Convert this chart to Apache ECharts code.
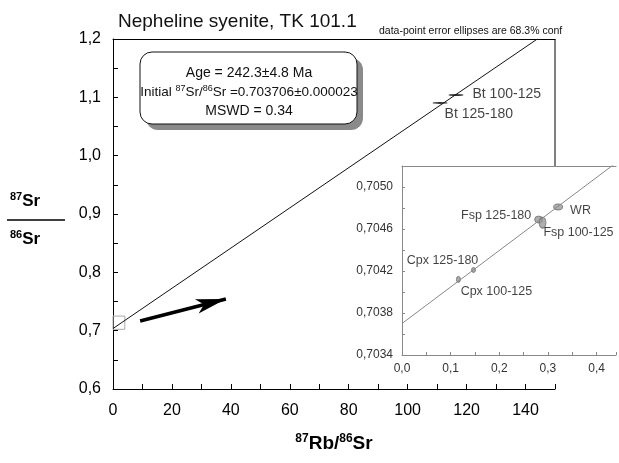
<!DOCTYPE html>
<html>
<head>
<meta charset="utf-8">
<script src="https://cdn.jsdelivr.net/npm/echarts@6/dist/echarts.min.js"></script>
<style>
html, body { margin: 0; padding: 0; background: #fff; }
#main { width: 619px; height: 463px; }
</style>
</head>
<body>
<div id="main"></div>
<script>
// values
var btNames = ['Bt 100-125', 'Bt 125-180'];
var btPoints = [[116.4, 1.104], [111.0, 1.0905]];
var insetNames = ['Cpx 100-125', 'Cpx 125-180', 'Fsp 125-180', 'Fsp 100-125', 'WR'];
var insetPoints = [[0.116, 0.70412], [0.147, 0.70421], [0.281, 0.70469], [0.289, 0.70466], [0.321, 0.70481]];
var mainIsochron = [[0, 0.7037], [144, 1.2]];
var insetIsochron = [[0, 0.7037], [0.44, 0.70523]];
var zoomBox = [[0, 0.7023], [4, 0.725]];
var arrowLine = [[9.2, 0.7166], [38.3, 0.7543]];
var boxLines = ['Age = 242.3±4.8 Ma', 'Initial {sup|87}Sr/{sup|86}Sr =0.703706±0.000023', 'MSWD = 0.34'];

var font = 'Liberation Sans, Arial, sans-serif';

var myChart = echarts.init(document.getElementById('main'));

function comma(v, d) {
  return v.toFixed(d).replace('.', ',');
}

// ellipse sizes and label placement for the inset points
var insetStyle = [
  { size: [4, 6], pos: 'bottom', off: [38, -3] },
  { size: [4, 5], pos: 'top', off: [-31, 5] },
  { size: [8, 7], pos: 'left', off: [2, -4] },
  { size: [7, 11], pos: 'right', off: [-8, 10] },
  { size: [9, 6], pos: 'right', off: [2, 4] }
];
var btStyle = [
  { pos: 'right', off: [4, -1] },
  { pos: 'right', off: [-8, 11] }
];

var option = {
  animation: false,
  textStyle: { fontFamily: font },
  title: {
    text: 'Nepheline syenite, TK 101.1',
    left: 113,
    top: 7,
    textStyle: { fontSize: 19, fontWeight: 'normal', color: '#111', fontFamily: font }
  },
  grid: [
    { left: 113, top: 39, width: 442, height: 350 },
    { left: 402, top: 166, width: 217, height: 189 }
  ],
  xAxis: [
    {
      gridIndex: 0, type: 'value', min: 0, max: 150, interval: 10,
      splitLine: { show: false },
      axisLine: { lineStyle: { color: '#000', width: 1 } },
      axisTick: { inside: true, length: 5, lineStyle: { color: '#000' } },
      axisLabel: {
        fontSize: 16, color: '#000', margin: 14,
        formatter: function (v) { return v % 20 === 0 ? String(v) : ''; }
      },
      name: '{sup|87}{b|Rb/}{sup|86}{b|Sr}',
      nameLocation: 'middle',
      nameGap: 44,
      nameTextStyle: {
        rich: {
          b: { fontSize: 19, fontWeight: 'bold', color: '#000', fontFamily: font },
          sup: { fontSize: 12, fontWeight: 'bold', color: '#000', verticalAlign: 'top', padding: [0, 0, 9, 0], fontFamily: font }
        }
      }
    },
    {
      gridIndex: 0, type: 'value', min: 0, max: 150, position: 'top',
      splitLine: { show: false }, axisTick: { show: false }, axisLabel: { show: false },
      axisLine: { show: true, lineStyle: { color: '#000', width: 1 } }
    },
    {
      gridIndex: 1, type: 'value', min: 0, max: 0.44, interval: 0.05,
      splitLine: { show: false },
      axisLine: { lineStyle: { color: '#888', width: 1 } },
      axisTick: { inside: true, length: 3, lineStyle: { color: '#888' } },
      axisLabel: {
        fontSize: 12, color: '#333', margin: 8,
        formatter: function (v) { return Math.round(v * 100) % 10 === 0 ? comma(v, 1) : ''; }
      }
    },
    {
      gridIndex: 1, type: 'value', min: 0, max: 0.44, position: 'top',
      splitLine: { show: false }, axisTick: { show: false }, axisLabel: { show: false },
      axisLine: { show: true, lineStyle: { color: '#888', width: 1 } }
    }
  ],
  yAxis: [
    {
      gridIndex: 0, type: 'value', min: 0.6, max: 1.2, interval: 0.05,
      splitLine: { show: false },
      axisLine: { show: true, lineStyle: { color: '#000', width: 1 } },
      axisTick: { show: true, inside: true, length: 5, lineStyle: { color: '#000' } },
      axisLabel: {
        fontSize: 16, color: '#000', margin: 12,
        formatter: function (v) { return Math.round(v * 100) % 10 === 0 ? comma(v, 1) : ''; }
      }
    },
    {
      gridIndex: 1, type: 'value', min: 0.7034, max: 0.7052, interval: 0.0002,
      splitLine: { show: false },
      axisLine: { show: true, lineStyle: { color: '#888', width: 1 } },
      axisTick: { show: true, inside: true, length: 3, lineStyle: { color: '#888' } },
      axisLabel: {
        fontSize: 12, color: '#333', margin: 9,
        formatter: function (v) {
          var n = Math.round((v - 0.7034) / 0.0002);
          return n % 2 === 0 ? comma(v, 4) : '';
        }
      }
    }
  ],
  series: [
    {
      name: 'isochron', type: 'line', xAxisIndex: 0, yAxisIndex: 0,
      data: mainIsochron, showSymbol: false, symbol: 'none',
      lineStyle: { color: '#111', width: 1 },
      markArea: {
        silent: true,
        itemStyle: { color: 'rgba(0,0,0,0)', borderColor: '#aaa', borderWidth: 1 },
        data: [[{ coord: zoomBox[0] }, { coord: zoomBox[1] }]]
      },
      markLine: {
        silent: true,
        symbol: ['none', 'arrow'],
        symbolSize: [11, 30],
        label: { show: false },
        lineStyle: { color: '#000', width: 3.5, type: 'solid' },
        data: [[{ coord: arrowLine[0] }, { coord: arrowLine[1] }]]
      }
    },
    {
      name: 'Bt', type: 'scatter', xAxisIndex: 0, yAxisIndex: 0,
      data: btPoints.map(function (p, i) {
        return {
          value: p, name: btNames[i],
          label: { show: true, position: btStyle[i].pos, offset: btStyle[i].off }
        };
      }),
      symbol: 'circle', symbolSize: [15, 2],
      itemStyle: { color: '#000' },
      label: { formatter: '{b}', fontSize: 14, color: '#111', fontFamily: font }
    },
    {
      name: 'inset isochron', type: 'line', xAxisIndex: 2, yAxisIndex: 1,
      data: insetIsochron, showSymbol: false, symbol: 'none',
      lineStyle: { color: '#888', width: 1 }
    },
    {
      name: 'minerals', type: 'scatter', xAxisIndex: 2, yAxisIndex: 1,
      data: insetPoints.map(function (p, i) {
        return {
          value: p, name: insetNames[i], symbolSize: insetStyle[i].size,
          label: { show: true, position: insetStyle[i].pos, offset: insetStyle[i].off }
        };
      }),
      symbol: 'circle',
      itemStyle: { color: '#9a9a9a', borderColor: '#555', borderWidth: 0.8 },
      label: { formatter: '{b}', fontSize: 12.5, color: '#111', fontFamily: font }
    }
  ]
};

myChart.setOption(option);

// frame pieces, info box and y title placed from the axes
var topRight = myChart.convertToPixel({ gridIndex: 0 }, [150, 1.2]);
var insetTop = myChart.convertToPixel({ gridIndex: 1 }, [0, 0.7052]);
var boxRich = {
  sup: { fontSize: 9, verticalAlign: 'top', padding: [0, 0, 7, 0], fontFamily: font, color: '#111' }
};
var fracRich = {
  b: { fontSize: 17, fontWeight: 'bold', fontFamily: font, fill: '#000' },
  sup: { fontSize: 11, fontWeight: 'bold', fontFamily: font, fill: '#000', verticalAlign: 'top', padding: [0, 0, 8, 0] }
};

myChart.setOption({
  graphic: [
    {
      type: 'line', silent: true,
      shape: { x1: topRight[0], y1: topRight[1], x2: topRight[0], y2: insetTop[1] },
      style: { stroke: '#000', lineWidth: 1 }
    },
    {
      type: 'text', left: 379, top: 26, silent: true,
      style: { text: 'data-point error ellipses are 68.3% conf', fontSize: 10.5, fill: '#111', font: '10.5px ' + font }
    },
    {
      type: 'rect', silent: true,
      shape: { x: 146, y: 58, width: 217, height: 72, r: 12 },
      style: { fill: '#8a8a8a' }
    },
    {
      type: 'rect', silent: true,
      shape: { x: 140, y: 52, width: 217, height: 72, r: 12 },
      style: { fill: '#fff', stroke: '#111', lineWidth: 1 }
    },
    {
      type: 'text', silent: true, x: 249, y: 73,
      style: { text: boxLines[0], fontSize: 14, fontFamily: font, fill: '#111', align: 'center', verticalAlign: 'middle' }
    },
    {
      type: 'text', silent: true, x: 249, y: 92,
      style: { text: boxLines[1], fontSize: 13.5, fontFamily: font, fill: '#111', align: 'center', verticalAlign: 'middle', rich: boxRich }
    },
    {
      type: 'text', silent: true, x: 249, y: 111,
      style: { text: boxLines[2], fontSize: 14, fontFamily: font, fill: '#111', align: 'center', verticalAlign: 'middle' }
    },
    {
      type: 'text', silent: true, x: 10, y: 201,
      style: { text: '{sup|87}{b|Sr}', align: 'left', verticalAlign: 'middle', rich: fracRich }
    },
    {
      type: 'line', silent: true,
      shape: { x1: 7, y1: 220, x2: 65, y2: 220 },
      style: { stroke: '#000', lineWidth: 1.5 }
    },
    {
      type: 'text', silent: true, x: 10, y: 239,
      style: { text: '{sup|86}{b|Sr}', align: 'left', verticalAlign: 'middle', rich: fracRich }
    }
  ]
});

window.onresize = function () {
  myChart.resize();
};
</script>
</body>
</html>
